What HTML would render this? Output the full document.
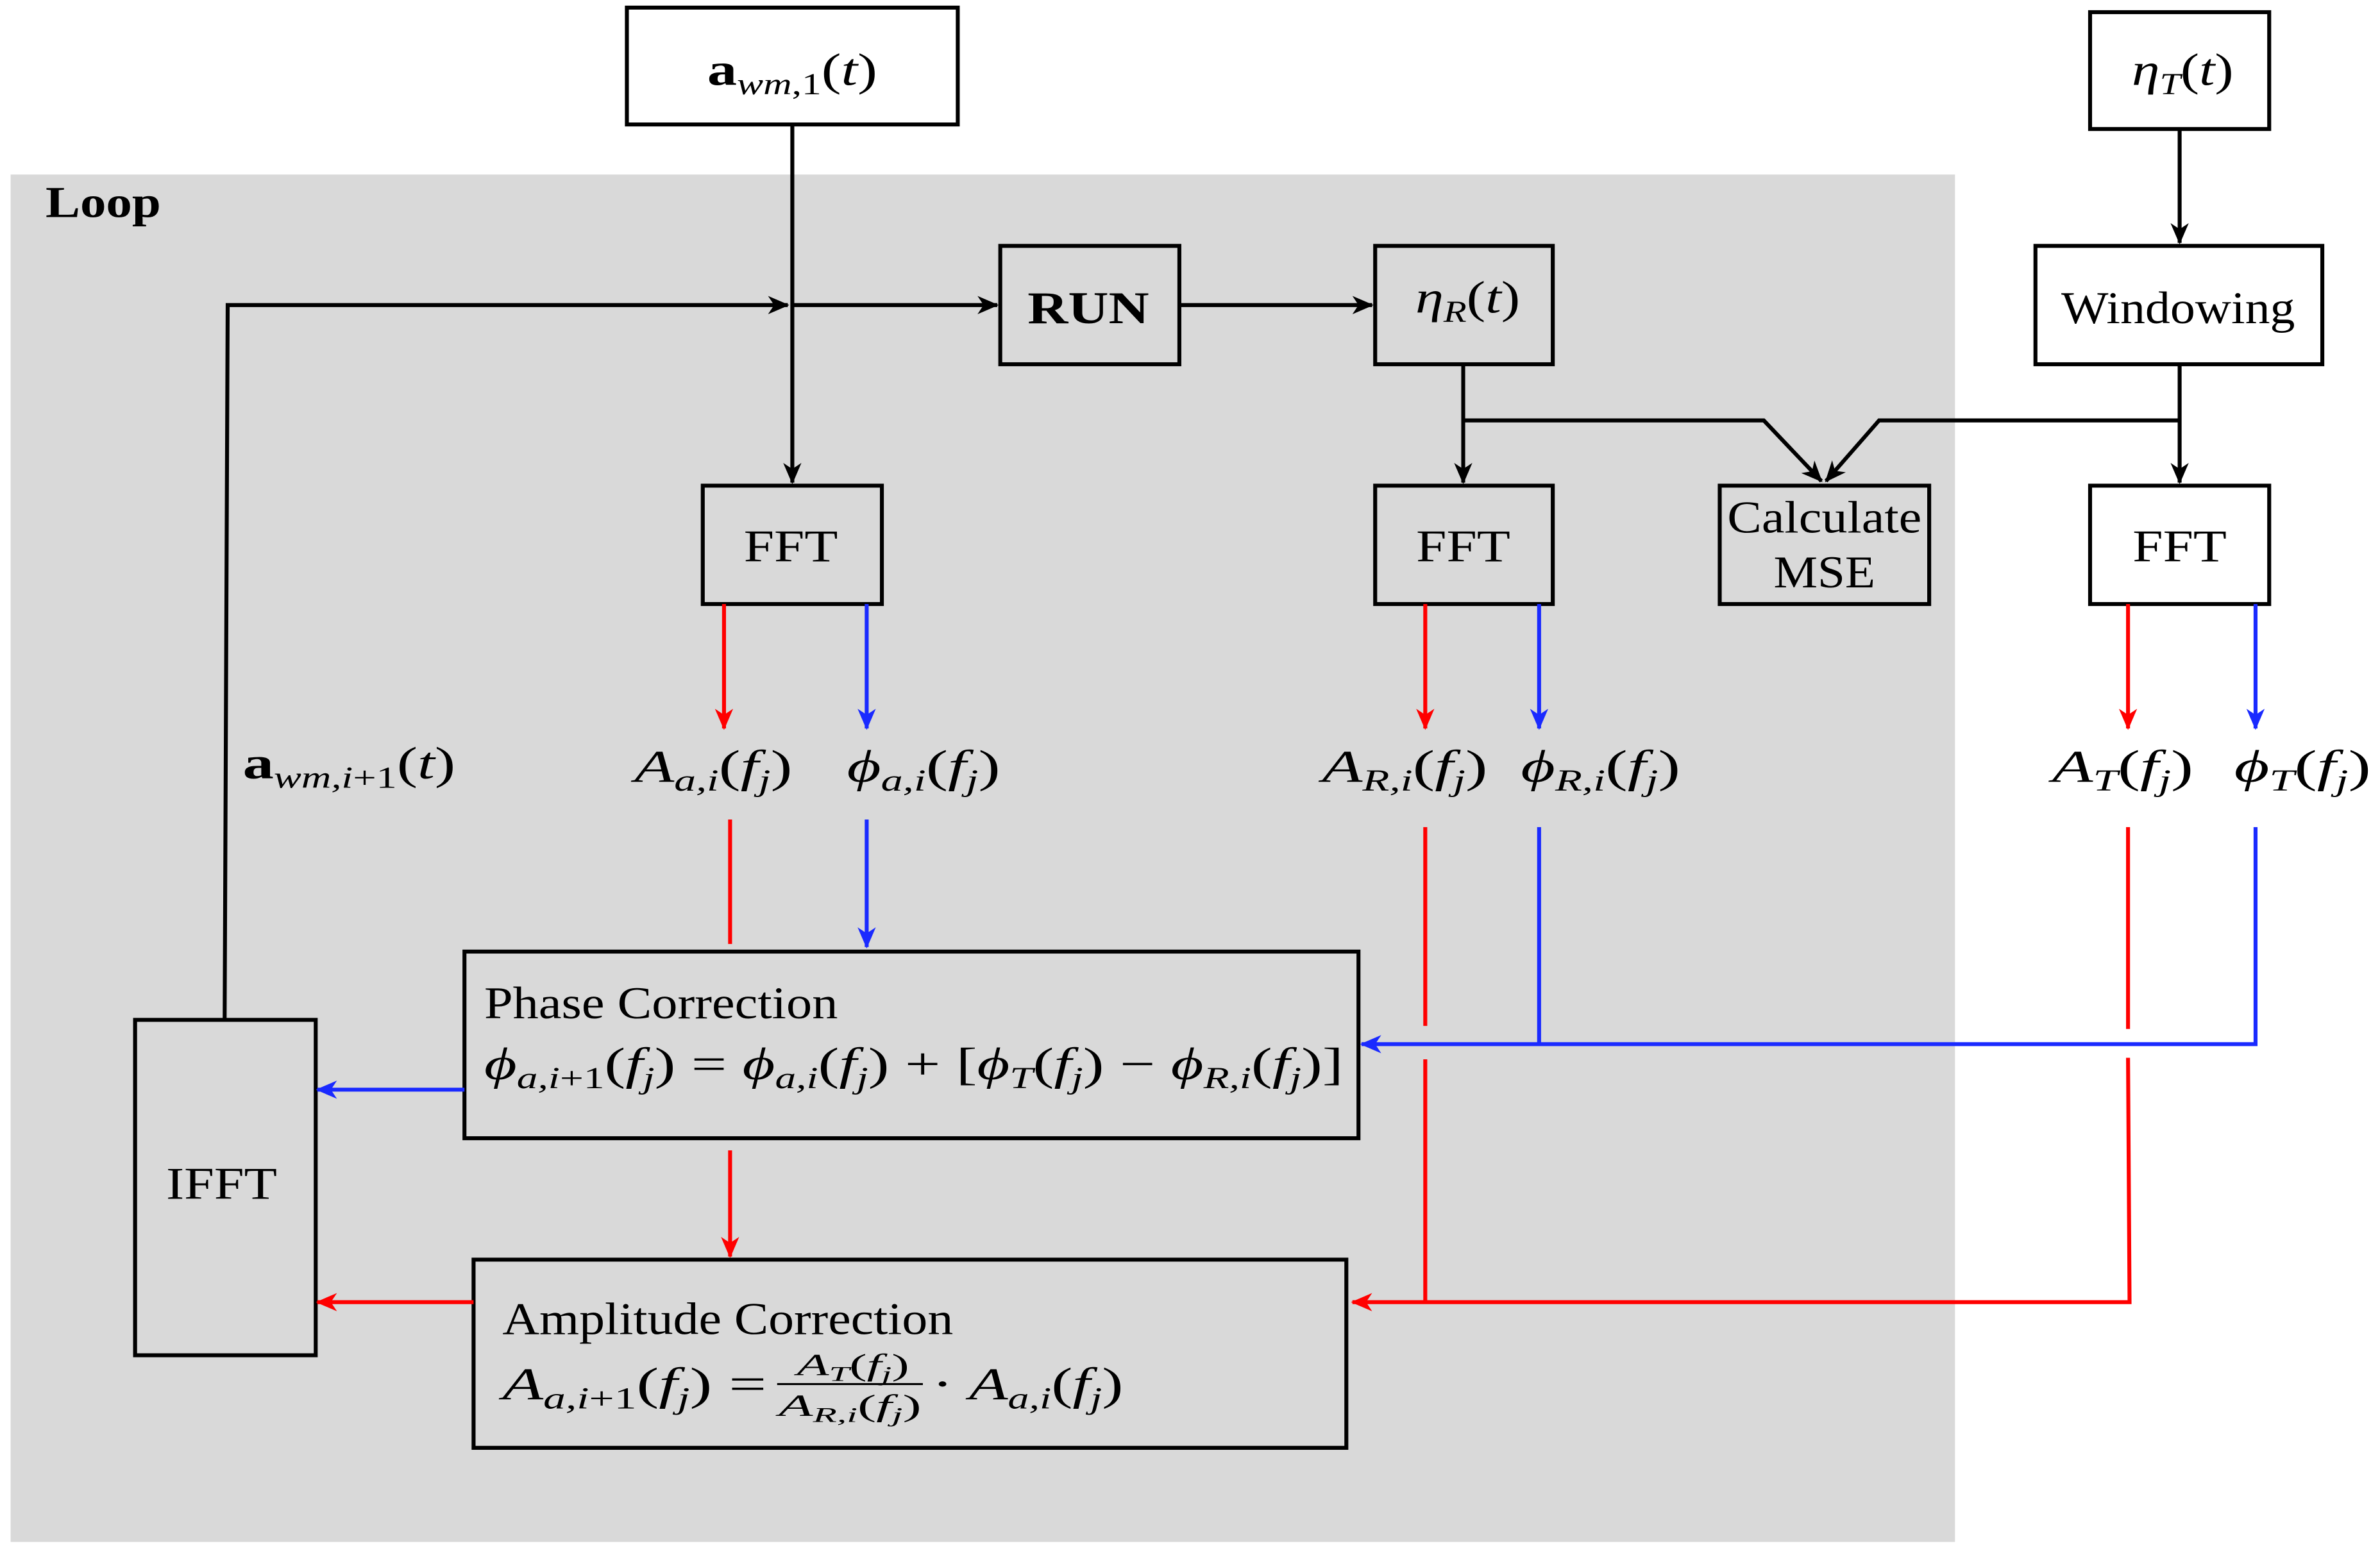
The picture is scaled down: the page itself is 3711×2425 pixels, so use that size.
<!DOCTYPE html>
<html><head><meta charset="utf-8"><style>
html,body{margin:0;padding:0;background:#fff}
svg{display:block}
text{font-family:"Liberation Serif",serif;fill:#000}
.m{font-style:italic}
</style></head><body>
<svg width="3711" height="2425" viewBox="0 0 1568 1024.6" xmlns="http://www.w3.org/2000/svg">
<defs>
<marker id="ak" markerWidth="14" markerHeight="12" refX="13" refY="6" orient="auto" markerUnits="userSpaceOnUse"><path d="M0,0 L14,6 L0,12 L4,6 z" fill="#000"/></marker>
<marker id="ar" markerWidth="14" markerHeight="12" refX="13" refY="6" orient="auto" markerUnits="userSpaceOnUse"><path d="M0,0 L14,6 L0,12 L4,6 z" fill="#f00"/></marker>
<marker id="ab" markerWidth="14" markerHeight="12" refX="13" refY="6" orient="auto" markerUnits="userSpaceOnUse"><path d="M0,0 L14,6 L0,12 L4,6 z" fill="#1a2aff"/></marker>
</defs>
<rect x="7" y="115" width="1281" height="901" fill="#d9d9d9"/>
<text x="30" y="143" font-size="29" font-weight="bold" textLength="76" lengthAdjust="spacingAndGlyphs">Loop</text>

<g fill="#fff" stroke="#000" stroke-width="2.6">
<rect x="413" y="5" width="218" height="77"/>
<rect x="1377" y="8" width="118" height="77"/>
</g>
<g fill="#d9d9d9" stroke="#000" stroke-width="2.6">
<rect x="659" y="162" width="118" height="78"/>
<rect x="906" y="162" width="117" height="78"/>
<rect x="463" y="320" width="118" height="78"/>
<rect x="906" y="320" width="117" height="78"/>
<rect x="1133" y="320" width="138" height="78"/>
<rect x="306" y="627" width="589" height="123"/>
<rect x="312" y="830" width="575" height="124"/>
<rect x="89" y="672" width="119" height="221"/>
</g>
<g fill="#fff" stroke="#000" stroke-width="2.6">
<rect x="1341" y="162" width="189" height="78"/>
<rect x="1377" y="320" width="118" height="78"/>
</g>

<g stroke="#000" stroke-width="2.6" fill="none">
<line x1="522" y1="82" x2="522" y2="318" marker-end="url(#ak)"/>
<line x1="522" y1="201" x2="657" y2="201" marker-end="url(#ak)"/>
<polyline points="148,672 150,201 519,201" marker-end="url(#ak)"/>
<line x1="777" y1="201" x2="904" y2="201" marker-end="url(#ak)"/>
<line x1="964" y1="240" x2="964" y2="318" marker-end="url(#ak)"/>
<polyline points="964,277 1162,277 1200,317" marker-end="url(#ak)"/>
<line x1="1436" y1="240" x2="1436" y2="318" marker-end="url(#ak)"/>
<polyline points="1436,277 1238,277 1203,317" marker-end="url(#ak)"/>
<line x1="1436" y1="85" x2="1436" y2="160" marker-end="url(#ak)"/>
</g>
<g stroke="#f00" stroke-width="2.6" fill="none">
<line x1="477" y1="398" x2="477" y2="480" marker-end="url(#ar)"/>
<line x1="939" y1="398" x2="939" y2="480" marker-end="url(#ar)"/>
<line x1="1402" y1="398" x2="1402" y2="480" marker-end="url(#ar)"/>
<line x1="481" y1="540" x2="481" y2="622"/>
<line x1="481" y1="758" x2="481" y2="828" marker-end="url(#ar)"/>
<line x1="939" y1="545" x2="939" y2="676"/>
<line x1="939" y1="698" x2="939" y2="858"/>
<line x1="1402" y1="545" x2="1402" y2="678"/>
<polyline points="1402,697 1403,858 891,858" marker-end="url(#ar)"/>
<line x1="312" y1="858" x2="209" y2="858" marker-end="url(#ar)"/>
</g>
<g stroke="#1a2aff" stroke-width="2.6" fill="none">
<line x1="571" y1="398" x2="571" y2="480" marker-end="url(#ab)"/>
<line x1="1014" y1="398" x2="1014" y2="480" marker-end="url(#ab)"/>
<line x1="1486" y1="398" x2="1486" y2="480" marker-end="url(#ab)"/>
<line x1="571" y1="540" x2="571" y2="624" marker-end="url(#ab)"/>
<line x1="1014" y1="545" x2="1014" y2="688"/>
<polyline points="1486,545 1486,688 897,688" marker-end="url(#ab)"/>
<line x1="306" y1="718" x2="209" y2="718" marker-end="url(#ab)"/>
</g>

<g font-size="30">
<text x="522" y="56" text-anchor="middle" textLength="112" lengthAdjust="spacingAndGlyphs"><tspan font-weight="bold">a</tspan><tspan class="m" font-size="20" dy="6">wm</tspan><tspan font-size="20">,1</tspan><tspan dy="-6">(</tspan><tspan class="m">t</tspan>)</text>
<text x="1438" y="56" text-anchor="middle" textLength="67" lengthAdjust="spacingAndGlyphs"><tspan class="m">η</tspan><tspan class="m" font-size="20" dy="6">T</tspan><tspan dy="-6">(</tspan><tspan class="m">t</tspan>)</text>
<text x="967" y="206" text-anchor="middle" textLength="69" lengthAdjust="spacingAndGlyphs"><tspan class="m">η</tspan><tspan class="m" font-size="20" dy="6">R</tspan><tspan dy="-6">(</tspan><tspan class="m">t</tspan>)</text>
<text x="717" y="213" text-anchor="middle" font-weight="bold" textLength="80" lengthAdjust="spacingAndGlyphs">RUN</text>
<text x="1435" y="213" text-anchor="middle" textLength="154" lengthAdjust="spacingAndGlyphs">Windowing</text>
<text x="521" y="370" text-anchor="middle" textLength="62" lengthAdjust="spacingAndGlyphs">FFT</text>
<text x="964" y="370" text-anchor="middle" textLength="62" lengthAdjust="spacingAndGlyphs">FFT</text>
<text x="1436" y="370" text-anchor="middle" textLength="62" lengthAdjust="spacingAndGlyphs">FFT</text>
<text x="1202" y="351" text-anchor="middle" textLength="128" lengthAdjust="spacingAndGlyphs">Calculate</text>
<text x="1202" y="387" text-anchor="middle" textLength="67" lengthAdjust="spacingAndGlyphs">MSE</text>
<text x="146" y="790" text-anchor="middle" textLength="73" lengthAdjust="spacingAndGlyphs">IFFT</text>

<text x="160" y="513" textLength="140" lengthAdjust="spacingAndGlyphs"><tspan font-weight="bold">a</tspan><tspan class="m" font-size="20" dy="6">wm,i</tspan><tspan font-size="20">+1</tspan><tspan dy="-6">(</tspan><tspan class="m">t</tspan>)</text>
<text x="418" y="515" textLength="104" lengthAdjust="spacingAndGlyphs"><tspan class="m">A</tspan><tspan class="m" font-size="20" dy="6">a,i</tspan><tspan dy="-6">(</tspan><tspan class="m">f</tspan><tspan class="m" font-size="20" dy="6">j</tspan><tspan dy="-6">)</tspan></text>
<text x="558" y="515" textLength="101" lengthAdjust="spacingAndGlyphs"><tspan class="m">ϕ</tspan><tspan class="m" font-size="20" dy="6">a,i</tspan><tspan dy="-6">(</tspan><tspan class="m">f</tspan><tspan class="m" font-size="20" dy="6">j</tspan><tspan dy="-6">)</tspan></text>
<text x="871" y="515" textLength="109" lengthAdjust="spacingAndGlyphs"><tspan class="m">A</tspan><tspan class="m" font-size="20" dy="6">R,i</tspan><tspan dy="-6">(</tspan><tspan class="m">f</tspan><tspan class="m" font-size="20" dy="6">j</tspan><tspan dy="-6">)</tspan></text>
<text x="1002" y="515" textLength="105" lengthAdjust="spacingAndGlyphs"><tspan class="m">ϕ</tspan><tspan class="m" font-size="20" dy="6">R,i</tspan><tspan dy="-6">(</tspan><tspan class="m">f</tspan><tspan class="m" font-size="20" dy="6">j</tspan><tspan dy="-6">)</tspan></text>
<text x="1352" y="515" textLength="93" lengthAdjust="spacingAndGlyphs"><tspan class="m">A</tspan><tspan class="m" font-size="20" dy="6">T</tspan><tspan dy="-6">(</tspan><tspan class="m">f</tspan><tspan class="m" font-size="20" dy="6">j</tspan><tspan dy="-6">)</tspan></text>
<text x="1472" y="515" textLength="90" lengthAdjust="spacingAndGlyphs"><tspan class="m">ϕ</tspan><tspan class="m" font-size="20" dy="6">T</tspan><tspan dy="-6">(</tspan><tspan class="m">f</tspan><tspan class="m" font-size="20" dy="6">j</tspan><tspan dy="-6">)</tspan></text>

<text x="319" y="671" textLength="233" lengthAdjust="spacingAndGlyphs">Phase Correction</text>
<text x="319" y="711" textLength="566" lengthAdjust="spacingAndGlyphs"><tspan class="m">ϕ</tspan><tspan class="m" font-size="20" dy="6">a,i</tspan><tspan font-size="20">+1</tspan><tspan dy="-6">(</tspan><tspan class="m">f</tspan><tspan class="m" font-size="20" dy="6">j</tspan><tspan dy="-6">) = </tspan><tspan class="m">ϕ</tspan><tspan class="m" font-size="20" dy="6">a,i</tspan><tspan dy="-6">(</tspan><tspan class="m">f</tspan><tspan class="m" font-size="20" dy="6">j</tspan><tspan dy="-6">) + [</tspan><tspan class="m">ϕ</tspan><tspan class="m" font-size="20" dy="6">T</tspan><tspan dy="-6">(</tspan><tspan class="m">f</tspan><tspan class="m" font-size="20" dy="6">j</tspan><tspan dy="-6">) − </tspan><tspan class="m">ϕ</tspan><tspan class="m" font-size="20" dy="6">R,i</tspan><tspan dy="-6">(</tspan><tspan class="m">f</tspan><tspan class="m" font-size="20" dy="6">j</tspan><tspan dy="-6">)]</tspan></text>

<text x="331" y="879" textLength="297" lengthAdjust="spacingAndGlyphs">Amplitude Correction</text>
<text x="331" y="922" textLength="174" lengthAdjust="spacingAndGlyphs"><tspan class="m">A</tspan><tspan class="m" font-size="20" dy="6">a,i</tspan><tspan font-size="20">+1</tspan><tspan dy="-6">(</tspan><tspan class="m">f</tspan><tspan class="m" font-size="20" dy="6">j</tspan><tspan dy="-6">) =</tspan></text>
<text x="525" y="906" font-size="20" class="m" textLength="74" lengthAdjust="spacingAndGlyphs">A<tspan font-size="14" dy="4">T</tspan><tspan dy="-4" font-style="normal">(</tspan>f<tspan font-size="14" dy="4">j</tspan><tspan dy="-4" font-style="normal">)</tspan></text>
<line x1="512" y1="912" x2="608" y2="912" stroke="#000" stroke-width="1.3"/>
<text x="513" y="933" font-size="20" class="m" textLength="94" lengthAdjust="spacingAndGlyphs">A<tspan font-size="14" dy="4">R,i</tspan><tspan dy="-4" font-style="normal">(</tspan>f<tspan font-size="14" dy="4">j</tspan><tspan dy="-4" font-style="normal">)</tspan></text>
<text x="614" y="922" textLength="126" lengthAdjust="spacingAndGlyphs">· <tspan class="m">A</tspan><tspan class="m" font-size="20" dy="6">a,i</tspan><tspan dy="-6">(</tspan><tspan class="m">f</tspan><tspan class="m" font-size="20" dy="6">j</tspan><tspan dy="-6">)</tspan></text>
</g>
</svg>
</body></html>
